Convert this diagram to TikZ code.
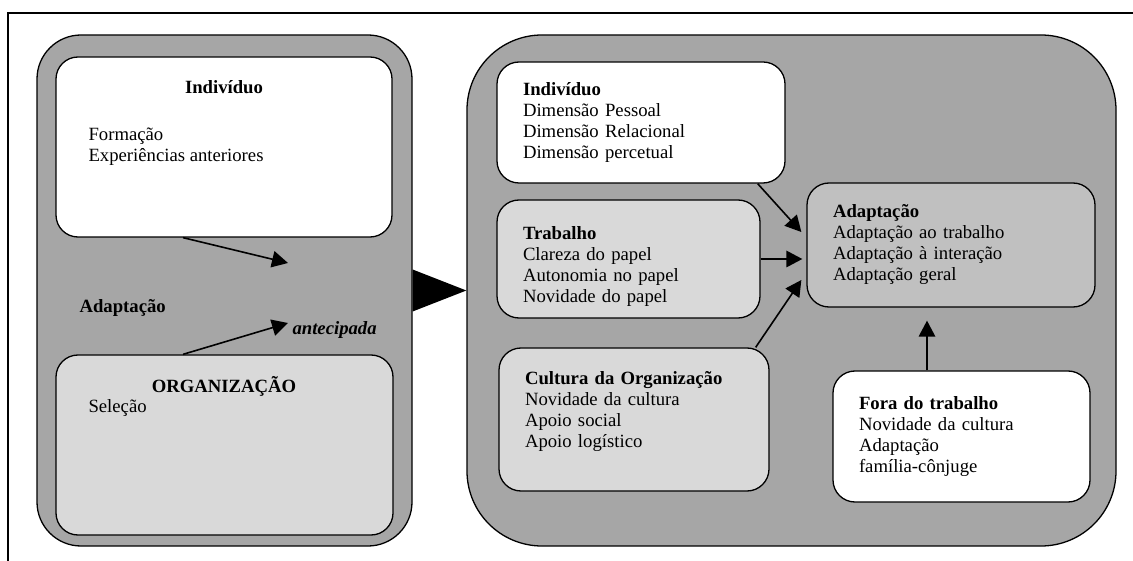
\documentclass[tikz,border=0pt]{standalone}
\usepackage{fontspec}
\setmainfont{Liberation Serif}
\usetikzlibrary{arrows.meta}
\definecolor{panelgray}{HTML}{A6A6A6}
\definecolor{boxgray}{HTML}{D9D9D9}
\definecolor{adaptgray}{HTML}{C0C0C0}

\begin{document}
\begin{tikzpicture}[x=1pt,y=-1pt,font=\fontsize{18.7}{21}\selectfont,
    panel/.style={draw, line width=1.3pt, fill=panelgray, inner sep=0pt},
    box/.style={draw, line width=1.3pt, rounded corners=22pt, inner ysep=0pt, inner xsep=26pt, align=left},
    whitebox/.style={box, fill=white},
    graybox/.style={box, fill=boxgray},
    adaptbox/.style={box, fill=adaptgray},
    arr/.style={-{Triangle[length=16pt,width=16.5pt]}, line width=1.6pt}]
    \useasboundingbox (0,0) rectangle (1133,561);
    \draw [line width=2pt] (8,561) -- (8,13) -- (1133,13);
    % les deux grands cadres
    \node [panel, rounded corners=44pt, minimum width=375pt, minimum height=511pt] (leftpanel) at (224.5,290.5) {};
    \node [panel, rounded corners=75pt, minimum width=649pt, minimum height=511pt] (rightpanel) at (791.5,290.5) {};
    \fill ([yshift=21pt]leftpanel.east) -- ([yshift=-21pt]leftpanel.east) -- (rightpanel.west) -- cycle;
    % cadre de gauche
    \node [whitebox, minimum width=336pt, minimum height=180pt] (lind) at (224,147) {};
    \node [anchor=base] (lindtitle) at (224,94) {\textbf{Indivíduo}};
    \node [anchor=base west] (lform) at (85,141) {Formação};
    \node [anchor=base west] (lexp) at (85,162) {Experiências anteriores};
    \node [graybox, minimum width=337pt, minimum height=180pt] (lorg) at (224.5,445) {};
    \node [anchor=base] (lorgtitle) at (224,392) {\textbf{ORGANIZAÇÃO}};
    \node [anchor=base west] (lsel) at (85,413) {Seleção};
    \node [anchor=base west] (ladapt) at (76,313) {\textbf{Adaptação}};
    \node [anchor=base west] (lantec) at (289,335) {\textbf{\textit{antecipada}}};
    \coordinate (tipind) at (288,263);
    \coordinate (tiporg) at (288,323);
    \draw [arr] ([xshift=-41pt]lind.south) -- (tipind);
    \draw [arr] ([xshift=-41.5pt]lorg.north) -- (tiporg);
    % cadre de droite
    \node [whitebox, text width=236pt, minimum height=121pt] (rind) at (641,122.5) {\textbf{Indivíduo}\\Dimensão Pessoal\\Dimensão Relacional\\Dimensão percetual};
    \node [graybox, text width=211pt, minimum height=118pt] (rtrab) at (628.5,259) {\rule{0pt}{28pt}\textbf{Trabalho}\\Clareza do papel\\Autonomia no papel\\Novidade do papel};
    \node [graybox, text width=218pt, minimum height=143pt] (rcult) at (634,419.5) {\textbf{Cultura da Organização}\\Novidade da cultura\\Apoio social\\Apoio logístico\\\mbox{}};
    \node [adaptbox, text width=236pt, minimum height=124pt] (radapt) at (951,245) {\textbf{Adaptação}\\Adaptação ao trabalho\\Adaptação à interação\\Adaptação geral};
    \node [whitebox, text width=205pt, minimum height=131pt] (rfora) at (961.5,436.5) {\textbf{Fora do trabalho}\\Novidade da cultura\\Adaptação\\família-cônjuge};
    \draw [arr] ([xshift=-28pt]rind.south east) -- ([xshift=-5pt,yshift=13pt]radapt.west);
    \draw [arr, shorten >=4pt] (rtrab.east) -- (rtrab.east -| radapt.west);
    \draw [arr] ([xshift=-14pt]rcult.north east) -- ([xshift=-5pt,yshift=-35pt]radapt.west);
    \draw [arr, shorten >=13pt] ([xshift=-34.5pt]rfora.north) -- ([xshift=-34.5pt]rfora.north |- radapt.south);
\end{tikzpicture}
\end{document}
